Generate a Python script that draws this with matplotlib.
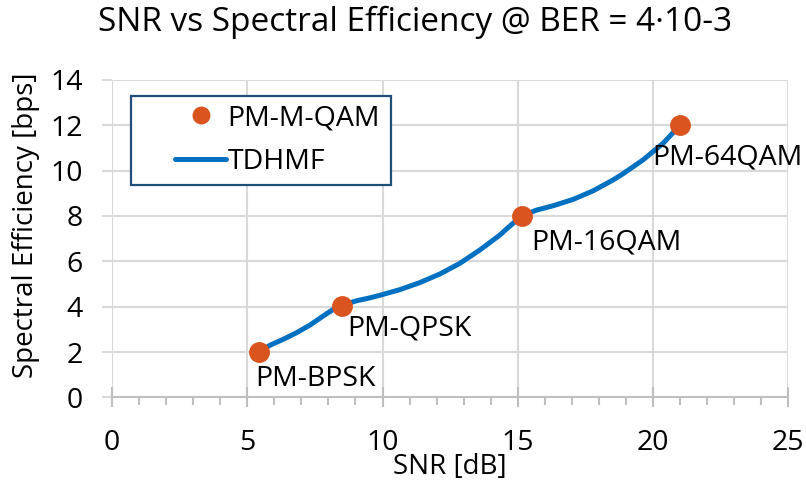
import matplotlib
matplotlib.use('Agg')
import matplotlib.pyplot as plt
from matplotlib.patches import Rectangle
from matplotlib.ticker import MultipleLocator

plt.rcParams['font.family'] = ['Open Sans', 'DejaVu Sans']

# modulation formats (points)
formats = ['PM-BPSK', 'PM-QPSK', 'PM-16QAM', 'PM-64QAM']
snr_pts = [5.44, 8.49, 15.14, 21.0]
se_pts = [2.0, 4.05, 8.0, 12.0]

# TDHMF curve
snr_curve = [5.44, 5.84, 6.33, 6.82, 7.32, 7.81, 8.18, 8.49, 9.04, 9.47,
             9.9, 10.64, 11.38, 12.12, 12.86, 13.6, 14.34, 14.58, 15.14,
             15.7, 16.31, 17.05, 17.79, 18.53, 18.89, 19.63, 20.37, 21.0]
se_curve = [2.0, 2.3, 2.56, 2.85, 3.19, 3.59, 3.88, 4.05, 4.26, 4.37,
            4.5, 4.75, 5.06, 5.44, 5.91, 6.5, 7.16, 7.42, 8.0,
            8.26, 8.45, 8.73, 9.11, 9.59, 9.86, 10.47, 11.2, 12.0]

# label offsets in pixels (text left edge / vertical centre)
label_offsets = [(-4, -27), (6, -23), (10, -27), (-28, -32)]

blue = '#0070C0'
orange = '#D9541E'
grid_col = '#D9D9D9'
txt_col = '#000000'

fig = plt.figure(figsize=(8.06, 4.84), dpi=100)
ax = fig.add_axes([0.139, 0.179, 0.839, 0.656])

ax.plot(snr_curve, se_curve, color=blue, lw=3.6, label='TDHMF',
        solid_capstyle='round', solid_joinstyle='round', zorder=3)
ax.plot(snr_pts, se_pts, 'o', color=orange, ms=14, label='PM-M-QAM', zorder=4)

for name, x, y, off in zip(formats, snr_pts, se_pts, label_offsets):
    ax.annotate(name, (x, y), xytext=off, textcoords='offset pixels',
                ha='left', va='center', fontsize=20.5, color=txt_col)

ax.set_xlim(0, 25)
ax.set_ylim(0, 14)
ax.xaxis.set_major_locator(MultipleLocator(5))
ax.xaxis.set_minor_locator(MultipleLocator(1))
ax.yaxis.set_major_locator(MultipleLocator(2))

ax.grid(True, which='major', color=grid_col, lw=1.5, zorder=0)
ax.set_axisbelow(True)
for s in ['top', 'right', 'left']:
    ax.spines[s].set_visible(False)
ax.spines['bottom'].set_color('#BFBFBF')
ax.spines['bottom'].set_linewidth(1.5)

ax.tick_params(axis='x', which='major', direction='inout', length=14,
               width=1.5, color='#BFBFBF', labelsize=20.5, pad=16,
               labelcolor=txt_col)
ax.tick_params(axis='x', which='minor', direction='out', length=6,
               width=1.5, color='#BFBFBF')
ax.tick_params(axis='y', which='major', direction='out', length=7,
               width=1.5, color=grid_col, labelsize=20.5, pad=14,
               labelcolor=txt_col)

ax.set_xlabel('SNR [dB]', fontsize=20, labelpad=-3, color=txt_col)
ax.set_ylabel('Spectral Efficiency [bps]', fontsize=20, color=txt_col)
ax.yaxis.set_label_coords(-0.1066, 0.543)

fig.suptitle('SNR vs Spectral Efficiency @ BER = 4·10-3', x=0.515, y=0.953,
             va='center', fontsize=24,
             family=['Liberation Sans Narrow', 'Open Sans', 'DejaVu Sans'])

# legend with a hand-placed frame
h, l = ax.get_legend_handles_labels()
leg = ax.legend(h[::-1], l[::-1], loc='upper left', frameon=False,
                bbox_to_anchor=(175 / 806, 1 - 104 / 484),
                bbox_transform=fig.transFigure, borderaxespad=0,
                borderpad=0, fontsize=20.5, handlelength=1.8,
                handletextpad=0.05, labelspacing=0.55, markerscale=0.85)
for t in leg.get_texts():
    t.set_color(txt_col)
frame = Rectangle((130.7 / 806, 1 - 185 / 484), 260 / 806, 89 / 484,
                  transform=fig.transFigure, facecolor='white',
                  edgecolor='#1F4E79', lw=1.6, zorder=4.5)
ax.add_patch(frame)
frame.set_clip_on(False)
leg.set_zorder(5)

fig.savefig('out.png', dpi=100)
